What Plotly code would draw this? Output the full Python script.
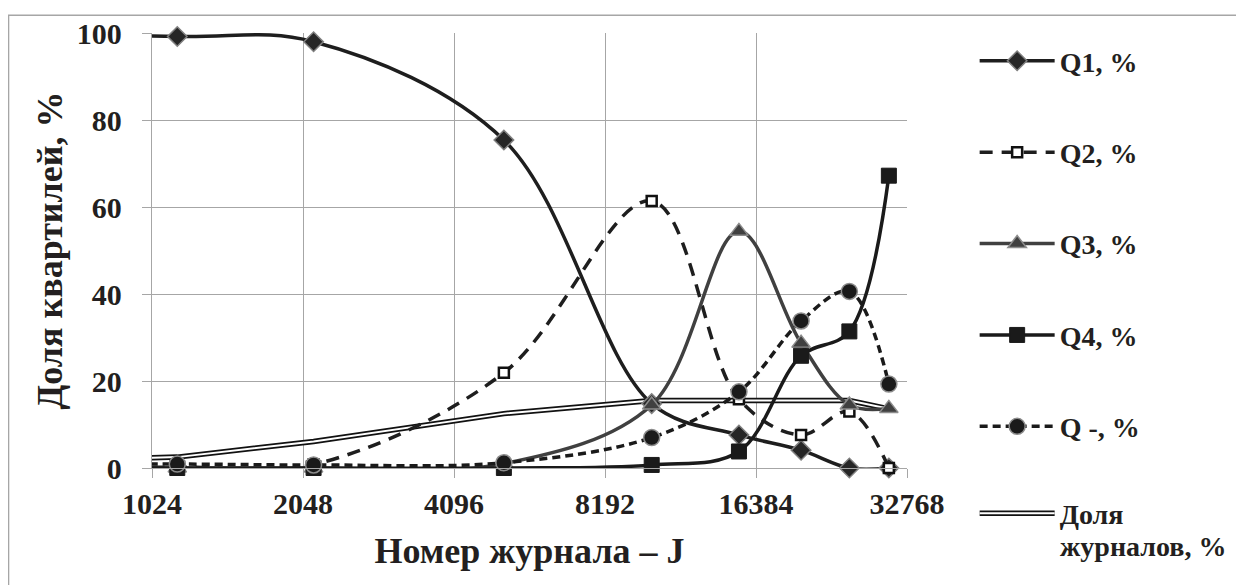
import math

import plotly.graph_objects as go

# journal number (x); first point lies left of the visible axis start
journal_no = [150, 1150, 2150, 5150, 10150, 15150, 20150, 25150, 30150]

q1 = [99.5, 99.2, 98.0, 75.4, 14.8, 7.6, 4.1, 0.0, 0.0]
q2 = [0.5, 0.2, 0.8, 21.9, 61.4, 15.8, 7.6, 13.0, 0.0]
q3 = [0.0, 0.0, 0.0, 1.0, 14.5, 54.4, 28.7, 14.5, 13.7]
q4 = [0.0, 0.0, 0.0, 0.0, 0.7, 3.8, 25.8, 31.4, 67.2]
q_none = [0.8, 0.9, 0.7, 1.2, 7.0, 17.5, 33.8, 40.6, 19.3]
journals_share = [0.4, 2.5, 6.1, 12.5, 15.5, 15.5, 15.5, 15.5, 13.6]

x_ticks = [1024, 2048, 4096, 8192, 16384, 32768]
y_ticks = [0, 20, 40, 60, 80, 100]

FONT = "Liberation Serif"
TEXT = "#231f20"
GRID = "#a6a6a6"

fig = go.Figure()

# double line "Доля журналов": black base + white core, two overlaid legends
fig.add_trace(
    go.Scatter(
        x=journal_no, y=journals_share, mode="lines",
        line=dict(color="#111111", width=5.5),
        name="Доля", legend="legend2",
    )
)
fig.add_trace(
    go.Scatter(
        x=journal_no, y=journals_share, mode="lines",
        line=dict(color="white", width=2),
        name=" ", legend="legend3",
    )
)

series = [
    ("Q1, %", q1, dict(color="#1e1e1e", width=3.5),
     dict(symbol="diamond", size=15, color="#262626", line=dict(color="#808080", width=1.5))),
    ("Q2, %", q2, dict(color="#1e1e1e", width=3.5, dash="13px,9px"),
     dict(symbol="square", size=10, color="white", line=dict(color="#111111", width=2.5))),
    ("Q3, %", q3, dict(color="#404040", width=3.5),
     dict(symbol="triangle-up", size=16, color="#404040", line=dict(color="#8c8c8c", width=1.5))),
    ("Q4, %", q4, dict(color="#1a1a1a", width=3.5),
     dict(symbol="square", size=15, color="#1a1a1a", line=dict(color="#1a1a1a", width=1))),
    ("Q -, %", q_none, dict(color="#1a1a1a", width=3.5, dash="8px,5px"),
     dict(symbol="circle", size=16, color="#1a1a1a", line=dict(color="#8c8c8c", width=1.5))),
]

for name, values, line, marker in series:
    fig.add_trace(
        go.Scatter(
            x=journal_no, y=values, mode="lines+markers", name=name,
            line=dict(shape="spline", smoothing=1, **line),
            marker=marker, legendgroup=name, cliponaxis=False,
        )
    )

fig.update_xaxes(
    type="log",
    range=[math.log10(x_ticks[0]), math.log10(x_ticks[-1])],
    tickvals=x_ticks,
    ticktext=[str(v) for v in x_ticks],
    showgrid=True, gridcolor=GRID, gridwidth=1.3,
    showline=True, linecolor=GRID, linewidth=1.3,
    ticks="outside", tickcolor=GRID, ticklen=9,
    title=dict(text="Номер журнала – J", standoff=18),
)
fig.update_yaxes(
    range=[0, 100],
    tickvals=y_ticks,
    showgrid=True, gridcolor=GRID, gridwidth=1.3,
    showline=True, linecolor=GRID, linewidth=1.3, zeroline=False,
    ticks="outside", tickcolor=GRID, ticklen=9, ticklabelstandoff=14,
    title=dict(text="Доля квартилей, %", standoff=3),
)

legend_common = dict(
    font=dict(family=FONT, size=28, color=TEXT, weight="bold"),
    bgcolor="rgba(0,0,0,0)", itemwidth=75, xanchor="left", yanchor="top",
    xref="paper", yref="paper",
)

# page body adds an 8px offset, so the figure is 8px smaller than the window
fig.update_layout(
    width=1236,
    height=577,
    margin=dict(l=143.7, r=337.3, t=25.3, b=116.7, autoexpand=False),
    paper_bgcolor="white",
    plot_bgcolor="white",
    font=dict(family=FONT, size=30, color=TEXT, weight="bold"),
    legend=dict(x=1.0896, y=0.993, tracegroupgap=52, **legend_common),
    legend2=dict(x=1.0896, y=-0.047, **legend_common),
    legend3=dict(x=1.0896, y=-0.047, **legend_common),
    annotations=[
        dict(text="журналов, %", xref="paper", yref="paper", x=1.2, y=-0.18,
             xanchor="left", yanchor="middle", showarrow=False,
             font=dict(family=FONT, size=28, color=TEXT, weight="bold")),
    ],
    shapes=[
        dict(type="rect", xref="paper", yref="paper", x0=-0.19, x1=2, y0=-1, y1=1.041,
             line=dict(color=GRID, width=1.5), layer="below"),
    ],
)

fig.write_html("out.html")
